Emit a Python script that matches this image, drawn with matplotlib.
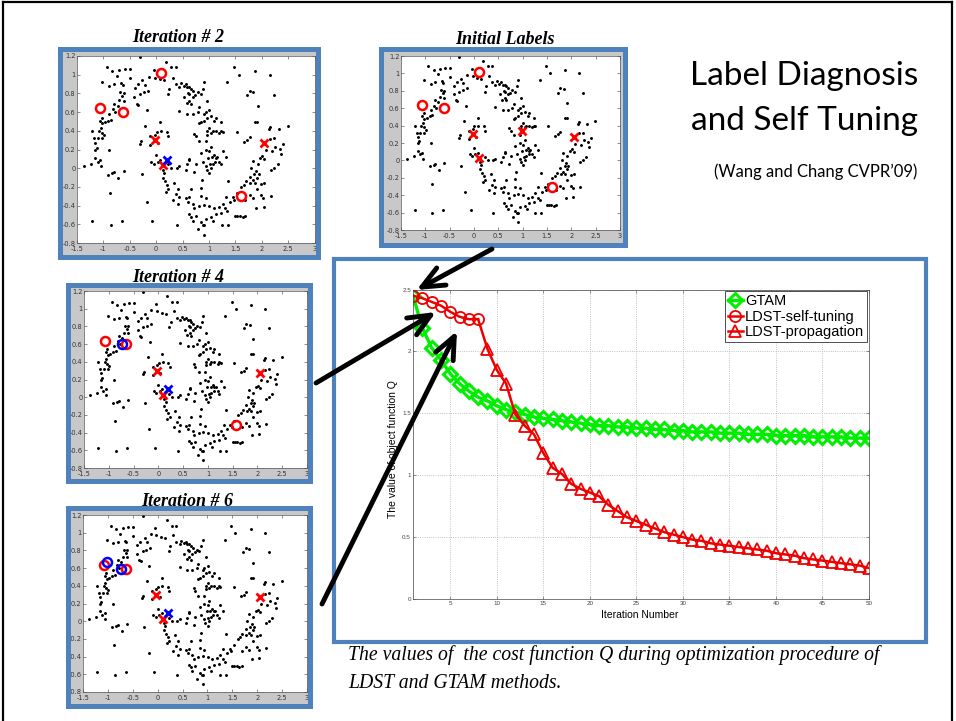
import numpy as np
import matplotlib
matplotlib.use('Agg')
import matplotlib.pyplot as plt
from matplotlib.patches import Rectangle, FancyArrowPatch
from matplotlib.lines import Line2D
from matplotlib.ticker import FuncFormatter

W, H = 956, 721

# two-moons point cloud (shared by all four small panels)
moon_pts = [
    (-0.30, 1.19), (-0.94, 1.08), (-0.83, 1.04), (-0.70, 1.05), (-0.59, 1.06), (-0.49, 1.06),
    (-0.75, 0.99), (-0.50, 0.96), (-1.02, 0.92), (-0.89, 0.88), (-0.80, 0.90), (-0.66, 0.91),
    (-0.63, 0.89), (-0.26, 0.94), (-0.22, 0.89), (-0.35, 0.90), (-0.41, 0.86), (-0.14, 0.98),
    (-0.05, 1.05), (-0.03, 0.97), (0.07, 0.95), (-0.15, 0.83), (-0.23, 0.81), (-0.30, 0.79),
    (-0.68, 0.81), (-0.61, 0.80), (-0.64, 0.77), (-0.70, 0.73), (-0.61, 0.72), (-0.42, 0.76),
    (-0.37, 0.69), (-0.34, 0.68), (-0.80, 0.69), (-0.82, 0.63), (-0.73, 0.67), (-0.78, 0.60),
    (-0.89, 0.58), (-0.86, 0.52), (-1.03, 0.54), (-1.06, 0.51), (-1.02, 0.48), (-0.97, 0.49),
    (-0.91, 0.51), (-1.05, 0.43), (-1.08, 0.40), (-1.03, 0.38), (-0.99, 0.35), (-1.21, 0.40),
    (-1.18, 0.32), (-1.10, 0.32), (-1.02, 0.32), (-1.15, 0.27), (-1.13, 0.22), (-1.16, 0.20),
    (-0.89, 0.20), (-1.16, 0.11), (-1.11, 0.07), (-1.06, 0.09), (-1.24, 0.05), (-1.37, 0.02),
    (-1.05, 0.02), (-0.91, -0.07), (-0.83, -0.05), (-0.80, -0.04), (-0.72, -0.11), (-0.61, -0.03),
    (-0.87, -0.27), (-1.22, -0.57), (-0.86, -0.61), (-0.64, -0.57), (-0.27, -0.06), (-0.18, -0.36),
    (-0.07, -0.57), (-0.29, 0.29), (-0.31, 0.26), (-0.21, 0.45), (-0.17, 0.62), (0.08, 0.49),
    (0.09, 0.40), (0.01, 0.39), (-0.03, 0.36), (-0.11, 0.34), (0.20, 0.39), (0.23, 0.34),
    (-0.11, 0.25), (0.04, 0.27), (-0.09, 0.07), (-0.04, 0.05), (0.03, 0.07), (0.00, 0.14),
    (0.08, 0.09), (0.22, 0.04), (0.28, 0.00), (0.39, 0.00), (0.44, 0.02), (0.12, -0.02),
    (0.15, -0.05), (0.12, -0.10), (0.16, -0.14), (0.20, -0.18), (0.23, -0.22), (0.18, -0.25),
    (0.34, -0.16), (0.41, -0.22), (0.37, -0.28), (0.44, -0.31), (0.31, -0.34), (0.41, -0.38),
    (0.39, -0.61), (0.63, 0.09), (0.18, 1.14), (0.28, 1.08), (0.37, 1.08), (0.31, 0.97),
    (0.37, 0.90), (0.44, 0.87), (0.47, 0.91), (0.52, 0.88), (0.56, 0.90), (0.63, 0.87),
    (0.53, 0.76), (0.58, 0.70), (0.63, 0.79), (0.44, 0.61), (0.59, 0.58), (0.25, 0.85),
    (0.22, 0.79), (0.15, 0.94),
    (1.48, 1.08), (1.56, 1.00), (1.87, 1.04), (2.15, 1.00), (1.35, 0.92), (1.77, 0.83),
    (1.84, 0.82), (1.72, 0.78), (2.23, 0.78), (1.92, 0.66), (1.87, 0.49), (1.91, 0.49),
    (2.49, 0.45), (2.16, 0.44), (2.13, 0.42), (2.32, 0.42), (1.53, 0.39), (1.77, 0.33),
    (1.73, 0.30), (1.67, 0.28), (2.24, 0.32), (2.15, 0.31), (2.40, 0.26), (2.26, 0.23),
    (2.35, 0.21), (2.08, 0.19), (2.20, 0.18), (2.37, 0.15), (2.01, 0.13), (2.05, 0.10),
    (1.97, 0.11), (1.83, 0.08), (1.92, 0.05), (2.30, 0.04), (2.24, 0.00), (2.18, -0.02),
    (1.80, 0.00), (1.89, -0.03), (1.94, -0.06), (1.86, -0.06), (1.77, -0.09), (1.91, -0.10),
    (1.83, -0.13), (1.70, -0.14), (1.78, -0.16), (1.88, -0.16), (1.99, -0.17), (2.05, -0.16),
    (1.66, -0.18), (1.61, -0.20), (1.37, -0.14), (1.91, -0.22), (1.99, -0.29), (2.03, -0.32),
    (2.18, -0.30), (1.77, -0.29), (1.83, -0.32), (1.69, -0.34), (2.04, -0.42), (1.89, -0.43),
    (1.53, -0.27), (1.45, -0.31), (1.48, -0.34), (1.32, -0.31), (1.39, -0.36), (1.26, -0.38),
    (1.20, -0.42), (1.31, -0.43), (1.35, -0.46), (1.23, -0.48), (1.50, -0.51), (1.54, -0.51),
    (1.59, -0.51), (1.64, -0.52), (1.69, -0.51), (1.13, -0.49), (1.04, -0.52), (1.08, -0.56),
    (0.94, -0.54), (0.85, -0.58), (0.91, -0.61), (0.80, -0.65), (1.25, -0.61), (1.37, -0.61),
    (0.91, -0.71), (0.75, -0.51), (0.69, -0.56), (0.66, -0.52), (0.62, -0.49), (0.72, -0.43),
    (0.82, -0.40), (0.91, -0.39), (1.01, -0.40), (1.10, -0.43), (0.94, -0.32), (0.85, -0.30),
    (0.69, -0.38), (0.60, -0.36), (0.56, -0.32), (0.62, -0.31), (0.85, -0.21), (0.87, -0.13),
    (0.75, 0.05), (0.63, 0.10), (0.88, 0.07), (0.94, 0.02), (0.99, 0.11), (1.06, 0.12),
    (1.10, 0.14), (1.13, 0.11), (1.16, 0.12), (1.12, 0.07), (1.07, 0.05), (1.02, 0.04),
    (0.96, -0.02), (1.04, 0.00), (1.20, 0.07), (1.23, 0.04), (1.01, 0.18), (0.94, 0.20),
    (1.04, 0.23), (0.85, 0.16), (0.82, 0.29), (0.94, 0.29), (0.97, 0.36), (1.04, 0.38),
    (1.07, 0.40), (0.97, 0.40), (1.01, 0.43), (1.10, 0.51), (1.13, 0.40), (1.20, 0.38),
    (1.23, 0.40), (1.26, 0.39), (0.75, 0.34), (0.72, 0.37), (0.85, 0.49), (0.91, 0.51),
    (0.82, 0.48), (0.97, 0.54), (1.04, 0.56), (0.94, 0.60), (0.91, 0.58), (0.79, 0.60),
    (0.82, 0.65), (0.69, 0.58), (0.66, 0.69), (0.63, 0.72), (0.69, 0.76), (0.74, 0.78),
    (0.79, 0.81), (0.84, 0.79), (0.91, 0.92), (0.88, 0.85), (0.97, 0.72), (1.01, 0.62),
    (1.23, 0.49), (1.13, 0.54), (0.59, 0.87), (0.66, 0.85), (0.61, 0.80), (0.70, 0.83),
    (1.26, 0.18), (1.32, 0.12), (1.01, -0.05), (0.72, -0.04), (0.56, -0.02), (0.59, 0.04),
    (0.66, -0.22), (0.89, -0.61),
]
moon_x = [p[0] for p in moon_pts]
moon_y = [p[1] for p in moon_pts]

# labelled points per panel
init_red_o = [(-1.07, 0.64), (-0.62, 0.60), (0.10, 1.02), (1.60, -0.30)]
init_red_x = [(-0.03, 0.30), (0.10, 0.03), (0.98, 0.34), (2.05, 0.27)]

it2_red_o = [(-1.07, 0.64), (-0.63, 0.60), (0.10, 1.02), (1.60, -0.30)]
it2_red_x = [(-0.03, 0.30), (0.12, 0.03), (2.05, 0.27)]
it2_blue_x = [(0.20, 0.09)]

it4_red_o = [(-1.08, 0.63), (-0.65, 0.60), (1.57, -0.31)]
it4_blue_o = [(-0.74, 0.60)]
it4_red_x = [(-0.03, 0.30), (0.10, 0.03), (2.06, 0.27)]
it4_blue_x = [(0.20, 0.09)]

it6_red_o = [(-1.08, 0.63), (-0.64, 0.59)]
it6_blue_o = [(-1.01, 0.67), (-0.73, 0.59)]
it6_red_x = [(-0.03, 0.30), (0.10, 0.03), (2.06, 0.27)]
it6_blue_x = [(0.20, 0.09)]

# cost function Q per iteration
iters = list(range(1, 51))
gtam = [2.45, 2.19, 2.03, 1.93, 1.82, 1.74, 1.68, 1.63, 1.60, 1.56,
        1.53, 1.51, 1.49, 1.47, 1.46, 1.45, 1.44, 1.43, 1.42, 1.41,
        1.40, 1.40, 1.39, 1.39, 1.38, 1.38, 1.37, 1.37, 1.36, 1.36,
        1.35, 1.35, 1.35, 1.34, 1.34, 1.34, 1.33, 1.33, 1.33, 1.32,
        1.32, 1.32, 1.32, 1.31, 1.31, 1.31, 1.31, 1.30, 1.30, 1.30]
self_tuning_it = list(range(1, 9))
self_tuning = [2.45, 2.43, 2.40, 2.37, 2.32, 2.28, 2.26, 2.26]
prop_it = list(range(9, 51))
propagation = [2.02, 1.85, 1.74, 1.49, 1.40, 1.33, 1.18, 1.06, 1.01, 0.93,
               0.89, 0.86, 0.83, 0.76, 0.71, 0.66, 0.63, 0.60, 0.57, 0.54,
               0.52, 0.50, 0.48, 0.47, 0.45, 0.44, 0.43, 0.42, 0.41, 0.40,
               0.39, 0.37, 0.36, 0.35, 0.33, 0.32, 0.31, 0.30, 0.29, 0.28,
               0.27, 0.25]

BLUE = '#4f81bd'
GRAY = '#c8c8c8'


def box(l, t, r, b):
    return [l / W, 1 - b / H, (r - l) / W, (b - t) / H]


def fpt(x, y):
    return (x / W, 1 - y / H)


fig = plt.figure(figsize=(W / 100, H / 100), dpi=100)
fig.patch.set_facecolor('white')

# slide border
for xs, ys in [((3, 3), (2, 721)), ((3, 952), (2, 2)), ((952, 952), (2, 721))]:
    fig.add_artist(Line2D([x / W for x in xs], [1 - y / H for y in ys],
                          color='black', lw=1.6, transform=fig.transFigure))

fmt = FuncFormatter(lambda v, p: '%g' % (round(v, 2) + 0.0))


def scatter_panel(frame, inner, title, title_xy, red_o=(), blue_o=(), red_x=(), blue_x=()):
    fig.add_artist(Rectangle(fpt(frame[0], frame[3]), (frame[2] - frame[0]) / W,
                             (frame[3] - frame[1]) / H, transform=fig.transFigure,
                             facecolor=GRAY, edgecolor='none', zorder=-1))
    fig.add_artist(Rectangle(fpt(frame[0], frame[3]), (frame[2] - frame[0]) / W,
                             (frame[3] - frame[1]) / H, transform=fig.transFigure,
                             facecolor='none', edgecolor=BLUE, lw=3.6, zorder=5))
    ax = fig.add_axes(box(*inner))
    ax.plot(moon_x, moon_y, '.', color='black', ms=2.2)
    for pts, col in [(red_o, 'red'), (blue_o, 'blue')]:
        if pts:
            ax.plot([p[0] for p in pts], [p[1] for p in pts], 'o', mfc='none',
                    mec=col, ms=6.5, mew=1.8)
    for pts, col in [(red_x, 'red'), (blue_x, 'blue')]:
        if pts:
            ax.plot([p[0] for p in pts], [p[1] for p in pts], 'x', color=col,
                    ms=5.5, mew=2.0)
    ax.set_xlim(-1.5, 3)
    ax.set_ylim(-0.8, 1.2)
    ax.set_xticks(np.arange(-1.5, 3.01, 0.5))
    ax.set_yticks(np.arange(-0.8, 1.21, 0.2))
    ax.xaxis.set_major_formatter(fmt)
    ax.yaxis.set_major_formatter(fmt)
    ax.tick_params(labelsize=4.8, length=2, width=0.4, direction='in', pad=1,
                   colors='#333333', top=True, right=True)
    ax.tick_params(axis='x', pad=2)
    for s in ax.spines.values():
        s.set_linewidth(0.5)
        s.set_color('#555555')
    fig.text(title_xy[0] / W, 1 - title_xy[1] / H, title, ha='center', va='center',
             fontsize=13, fontweight='bold', fontstyle='italic', family='Liberation Serif')
    return ax


scatter_panel((60, 48.5, 317.5, 257), (77, 56, 314.5, 243), 'Iteration # 2', (178, 38),
              red_o=it2_red_o, red_x=it2_red_x, blue_x=it2_blue_x)
scatter_panel((380.5, 49, 625, 245), (401, 56, 620, 230), 'Initial Labels', (505, 39),
              red_o=init_red_o, red_x=init_red_x)
scatter_panel((67.5, 284.5, 310.5, 480.5), (84, 291, 307, 468), 'Iteration # 4', (178, 277),
              red_o=it4_red_o, blue_o=it4_blue_o, red_x=it4_red_x, blue_x=it4_blue_x)
scatter_panel((67.5, 507.5, 310.5, 705.5), (83, 515, 307, 692), 'Iteration # 6', (187, 501),
              red_o=it6_red_o, blue_o=it6_blue_o, red_x=it6_red_x, blue_x=it6_blue_x)

# main chart
fig.add_artist(Rectangle(fpt(334, 642), (926 - 334) / W, (642 - 258.5) / H,
                         transform=fig.transFigure, facecolor='none', edgecolor=BLUE,
                         lw=3.0, zorder=5))
ax = fig.add_axes(box(413, 289.5, 869, 599))
ax.plot(iters, gtam, '-D', color='#00ee00', lw=2.4, ms=7.5, mfc='none', mew=2.2, label='GTAM')
ax.plot(self_tuning_it, self_tuning, '-o', color='#ee0000', lw=1.8, ms=8, mfc='none',
        mew=1.3, label='LDST-self-tuning')
ax.plot([self_tuning_it[-1]] + prop_it, [self_tuning[-1]] + propagation, '-^',
        color='#ee0000', lw=1.8, ms=8, mfc='none', mew=1.3,
        markevery=list(range(1, len(prop_it) + 1)), label='LDST-propagation')
ax.set_xlim(1, 50)
ax.set_ylim(0, 2.5)
ax.set_xticks(range(5, 51, 5))
ax.set_yticks([0, 0.5, 1, 1.5, 2, 2.5])
ax.yaxis.set_major_formatter(fmt)
ax.grid(True, linestyle=':', color='#b0b0b0', lw=0.6)
ax.tick_params(labelsize=4.5, length=2, width=0.4, direction='in', pad=1.5,
               colors='#444444', top=True, right=True)
for s in ax.spines.values():
    s.set_linewidth(0.5)
    s.set_color('#444444')
for lab in ax.get_xticklabels() + ax.get_yticklabels():
    lab.set_family('Liberation Sans')
leg = ax.legend(loc='upper right', bbox_to_anchor=((867 - 413) / 456, 1 - (291 - 289.5) / 309.5),
                prop={'family': 'Liberation Sans', 'size': 10.5},
                handlelength=1.0, handletextpad=0.15, labelspacing=0.12,
                borderpad=0.2, borderaxespad=0, fancybox=False, framealpha=1)
leg.get_frame().set_edgecolor('#333333')
leg.get_frame().set_linewidth(0.6)
fig.text(393 / W, 1 - 449 / H, 'The value of object function Q', rotation=90,
         ha='center', va='center', fontsize=7.5, family='Liberation Sans')
fig.text(640 / W, 1 - 615 / H, 'Iteration Number', ha='center', va='center',
         fontsize=7.5, family='Liberation Sans')

# slide texts
fig.text(918 / W, 1 - 85 / H, 'Label Diagnosis', ha='right', va='baseline',
         fontsize=24, family='Lato')
fig.text(918 / W, 1 - 130 / H, 'and Self Tuning', ha='right', va='baseline',
         fontsize=24, family='Lato')
fig.text(917 / W, 1 - 177 / H, '(Wang and Chang CVPR\u201909)', ha='right', va='baseline',
         fontsize=12, family='Lato')
fig.text(348 / W, 1 - 655 / H, 'The values of  the cost function Q during optimization procedure of',
         ha='left', va='center', fontsize=14.2, fontstyle='italic', family='Liberation Serif')
fig.text(348 / W, 1 - 683 / H, 'LDST and GTAM methods.',
         ha='left', va='center', fontsize=14.2, fontstyle='italic', family='Liberation Serif')

# arrows pointing at the curve
for start, end in [((492, 249), (416.5, 290)), ((316, 383), (436, 312)), ((322, 604), (457, 331))]:
    fig.add_artist(FancyArrowPatch(fpt(*start), fpt(*end), transform=fig.transFigure,
                                   arrowstyle='->,head_length=0.8,head_width=0.35',
                                   mutation_scale=20, lw=3.5, color='black', zorder=10,
                                   shrinkA=0, shrinkB=0))

fig.savefig('out.png', dpi=100)
